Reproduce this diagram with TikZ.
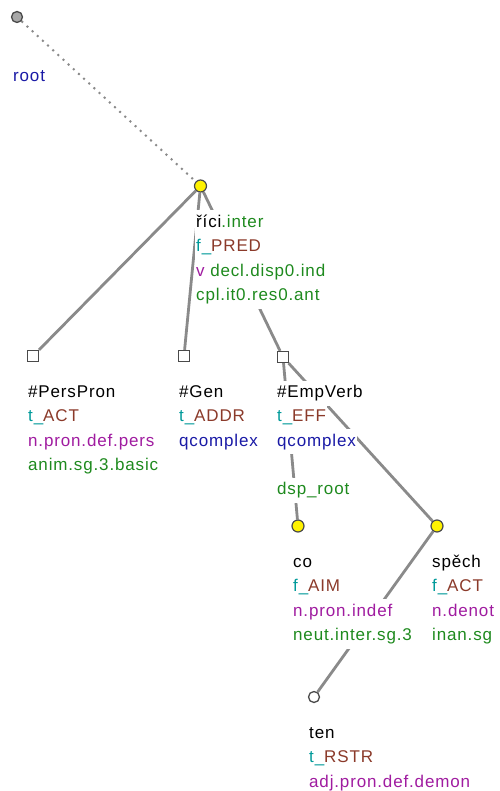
\documentclass[tikz,border=0pt]{standalone}
\usepackage{fontspec}
\setmainfont{Liberation Sans}[LetterSpace=5]
\usetikzlibrary{positioning,backgrounds}
\definecolor{edgegray}{HTML}{8A8A8A}
\definecolor{funcpre}{HTML}{009A9A}
\definecolor{funcname}{HTML}{8B3A2A}
\definecolor{tagpurple}{HTML}{A01CA0}
\definecolor{attrgreen}{HTML}{1E8A1E}
\definecolor{qnavy}{HTML}{1A1AA6}
\definecolor{nodeline}{HTML}{4A4A4A}
\definecolor{rootfill}{HTML}{A8A8A8}

\begin{document}
\begin{tikzpicture}[x=1pt,y=-1pt,
  font=\fontsize{17pt}{24pt}\selectfont,
  tnode/.style={circle,draw=nodeline,line width=1.2pt,fill=yellow,minimum size=12pt,inner sep=0pt},
  cnode/.style={rectangle,draw=nodeline,line width=1.3pt,fill=white,minimum size=11pt,inner sep=0pt},
  lnode/.style={circle,draw=nodeline,line width=1.3pt,fill=white,minimum size=11pt,inner sep=0pt},
  lbl/.style={fill=white,inner xsep=1pt,inner ysep=4pt,text height=13pt,text depth=4pt},
  nextline/.style={below=-1pt of #1.south west,anchor=north west},
  treeedge/.style={line width=2.8pt,edgegray},
  rootedge/.style={line width=2pt,edgegray,dash pattern=on 2pt off 5pt}]
  \useasboundingbox (0,0) rectangle (499,791);

  % technical root
  \node[circle,draw=nodeline,line width=1.3pt,fill=rootfill,minimum size=11pt,inner sep=0pt] (root) at (17,17) {};
  \node[lbl,anchor=west,text=qnavy] (root1) at (12,77) {root};

  % predicate
  \node[tnode] (rici) at (200.5,186) {};
  \node[lbl,anchor=west] (rici1) at (195,223) {říci\textcolor{attrgreen}{.inter}};
  \node[lbl,nextline=rici1] (rici2) {\textcolor{funcpre}{f\_}\textcolor{funcname}{PRED}};
  \node[lbl,nextline=rici2] (rici3) {\textcolor{tagpurple}{v} \textcolor{attrgreen}{decl.disp0.ind}};
  \node[lbl,nextline=rici3,text=attrgreen] (rici4) {cpl.it0.res0.ant};

  % generated nodes
  \node[cnode] (pers) at (33,356) {};
  \node[lbl,anchor=west] (pers1) at (27,393) {\#PersPron};
  \node[lbl,nextline=pers1] (pers2) {\textcolor{funcpre}{t\_}\textcolor{funcname}{ACT}};
  \node[lbl,nextline=pers2,text=tagpurple] (pers3) {n.pron.def.pers};
  \node[lbl,nextline=pers3,text=attrgreen] (pers4) {anim.sg.3.basic};

  \node[cnode] (gen) at (184,356) {};
  \node[lbl,anchor=west] (gen1) at (178,393) {\#Gen};
  \node[lbl,nextline=gen1] (gen2) {\textcolor{funcpre}{t\_}\textcolor{funcname}{ADDR}};
  \node[lbl,nextline=gen2,text=qnavy] (gen3) {qcomplex};

  \node[cnode] (emp) at (283,357) {};
  \node[lbl,anchor=west] (emp1) at (276,393) {\#EmpVerb};
  \node[lbl,nextline=emp1] (emp2) {\textcolor{funcpre}{t\_}\textcolor{funcname}{EFF}};
  \node[lbl,nextline=emp2,text=qnavy] (emp3) {qcomplex};
  \node[lbl,below=23pt of emp3.south west,anchor=north west,text=attrgreen] (emp5) {dsp\_root};

  % lower level
  \node[tnode] (co) at (298,526) {};
  \node[lbl,anchor=west] (co1) at (292,563) {co};
  \node[lbl,nextline=co1] (co2) {\textcolor{funcpre}{f\_}\textcolor{funcname}{AIM}};
  \node[lbl,nextline=co2,text=tagpurple] (co3) {n.pron.indef};
  \node[lbl,nextline=co3,text=attrgreen] (co4) {neut.inter.sg.3};

  \node[tnode] (spech) at (437,526) {};
  \node[lbl,anchor=west] (spech1) at (431,563) {spěch};
  \node[lbl,nextline=spech1] (spech2) {\textcolor{funcpre}{f\_}\textcolor{funcname}{ACT}};
  \node[lbl,nextline=spech2,text=tagpurple] (spech3) {n.denot};
  \node[lbl,nextline=spech3,text=attrgreen] (spech4) {inan.sg};

  \node[lnode] (ten) at (314,697) {};
  \node[lbl,anchor=west] (ten1) at (308,734) {ten};
  \node[lbl,nextline=ten1] (ten2) {\textcolor{funcpre}{t\_}\textcolor{funcname}{RSTR}};
  \node[lbl,nextline=ten2,text=tagpurple] (ten3) {adj.pron.def.demon};

  % edges under the labels
  \begin{scope}[on background layer]
    \draw[rootedge] (root) -- (rici);
    \draw[treeedge] (rici) -- (pers);
    \draw[treeedge] (rici) -- (gen);
    \draw[treeedge] (rici) -- (emp);
    \draw[treeedge] (emp) -- (co);
    \draw[treeedge] (emp) -- (spech);
    \draw[treeedge] (spech) -- (ten);
  \end{scope}
\end{tikzpicture}
\end{document}
